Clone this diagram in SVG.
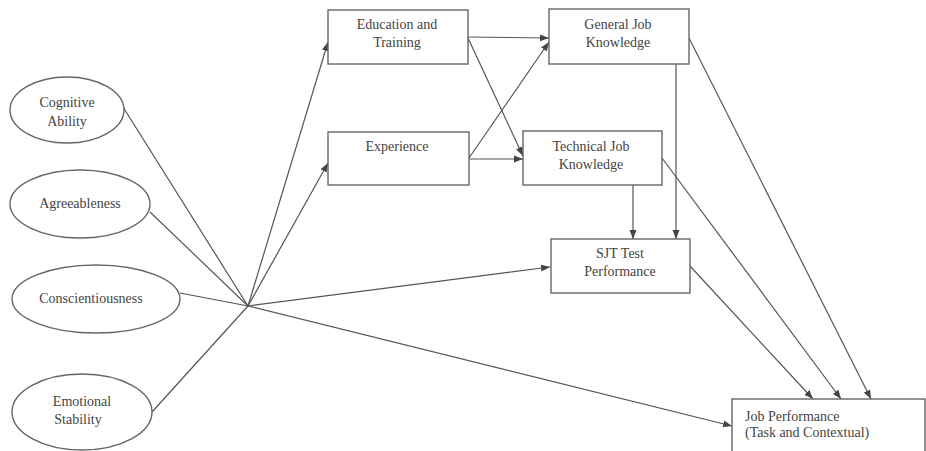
<svg xmlns="http://www.w3.org/2000/svg" width="926" height="451" viewBox="0 0 926 451">
<style>
.node{fill:#fff;stroke:#666;stroke-width:1.4}
.t{font-family:'Liberation Serif','DejaVu Serif',serif;font-size:14px;fill:#444;text-anchor:middle}
.tl{text-anchor:start}
.c{fill:none;stroke:#555;stroke-width:1.2}
.a{marker-end:url(#arr)}
</style>
<defs>
<marker id="arr" markerUnits="userSpaceOnUse" markerWidth="10" markerHeight="8" refX="9" refY="4" orient="auto">
<path d="M0,0.5 L9,4 L0,7.5 Z" fill="#444"/>
</marker>
</defs>
<rect width="926" height="451" fill="#fff"/>
<g id="connectors">
<line class="c" x1="123" y1="107" x2="248" y2="306"/>
<line class="c" x1="150" y1="212" x2="248" y2="306"/>
<line class="c" x1="180" y1="293" x2="248" y2="306"/>
<line class="c" x1="152" y1="412" x2="248" y2="306"/>
<line class="c a" x1="248" y1="306" x2="328" y2="42"/>
<line class="c a" x1="248" y1="306" x2="328" y2="163"/>
<line class="c a" x1="248" y1="306" x2="550" y2="267"/>
<line class="c a" x1="248" y1="306" x2="732" y2="426"/>
<line class="c a" x1="468" y1="37" x2="549" y2="38"/>
<line class="c a" x1="468" y1="38" x2="523" y2="156"/>
<line class="c a" x1="469" y1="158" x2="549" y2="42"/>
<line class="c a" x1="469" y1="159" x2="523" y2="159"/>
<line class="c a" x1="633" y1="185" x2="633" y2="239"/>
<line class="c a" x1="676" y1="64" x2="676" y2="239"/>
<line class="c a" x1="690" y1="266" x2="813" y2="399"/>
<line class="c a" x1="662" y1="158" x2="841" y2="399"/>
<line class="c a" x1="689" y1="38" x2="871" y2="399"/>
</g>
<g id="cognitive">
<ellipse class="node" cx="67" cy="110" rx="57" ry="33"/>
<text class="t" x="67" y="107">Cognitive</text>
<text class="t" x="67" y="126">Ability</text>
</g>
<g id="agreeableness">
<ellipse class="node" cx="80" cy="204" rx="70" ry="34"/>
<text class="t" x="80" y="208">Agreeableness</text>
</g>
<g id="conscientiousness">
<ellipse class="node" cx="96" cy="299" rx="84" ry="34"/>
<text class="t" x="91" y="303">Conscientiousness</text>
</g>
<g id="emotional">
<ellipse class="node" cx="82" cy="412" rx="70" ry="38"/>
<text class="t" x="82" y="406">Emotional</text>
<text class="t" x="78" y="424">Stability</text>
</g>
<g id="education">
<rect class="node" x="328" y="10" width="140" height="54"/>
<text class="t" x="397" y="29">Education and</text>
<text class="t" x="397" y="47">Training</text>
</g>
<g id="experience">
<rect class="node" x="328" y="132" width="141" height="53"/>
<text class="t" x="397" y="151">Experience</text>
</g>
<g id="general">
<rect class="node" x="549" y="9" width="140" height="55"/>
<text class="t" x="618" y="29">General Job</text>
<text class="t" x="618" y="47">Knowledge</text>
</g>
<g id="technical">
<rect class="node" x="523" y="131" width="139" height="54"/>
<text class="t" x="591" y="151">Technical Job</text>
<text class="t" x="591" y="169">Knowledge</text>
</g>
<g id="sjt">
<rect class="node" x="551" y="239" width="139" height="54"/>
<text class="t" x="620" y="258">SJT Test</text>
<text class="t" x="620" y="276">Performance</text>
</g>
<g id="jobperf">
<rect class="node" x="732" y="399" width="193" height="60"/>
<text class="t tl" x="745" y="421">Job Performance</text>
<text class="t tl" x="745" y="437">(Task and Contextual)</text>
</g>
</svg>
